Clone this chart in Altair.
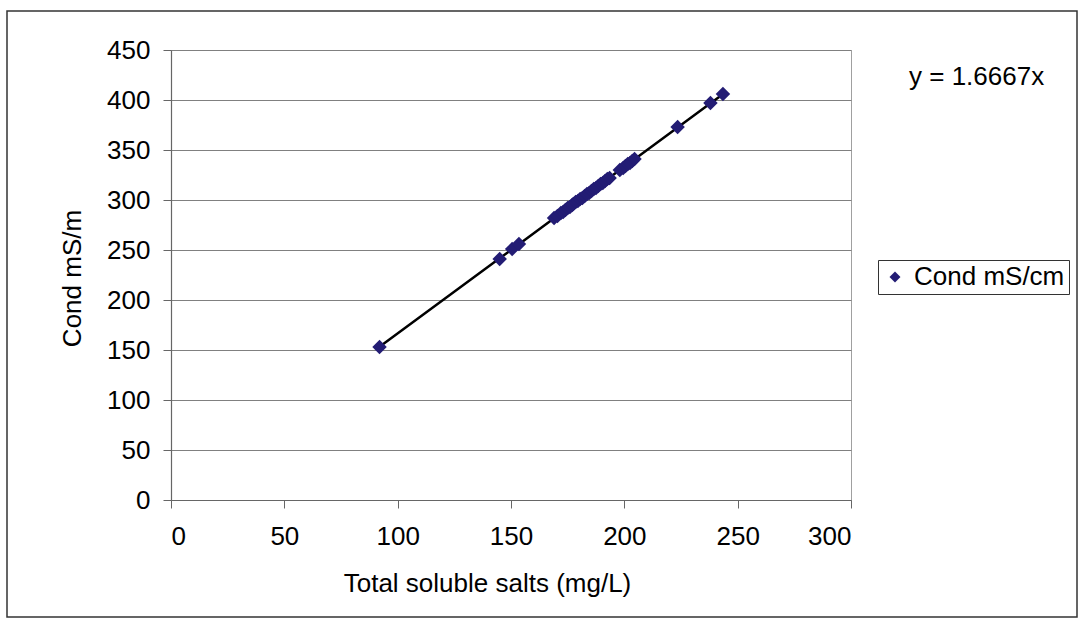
import altair as alt
import pandas as pd

# Data
tds = [92, 145, 150.5, 153.5, 169, 170.5, 172, 173, 174, 175, 176, 177, 177.5,
       178.5, 179.5, 180.5, 181.5, 182.5, 183.5, 184.5, 185.5, 186.5, 187.5,
       188.5, 189.5, 190.5, 191.5, 192.5, 193.5, 198, 199.5, 200.5, 201.5,
       202.5, 203.5, 204.5, 223.5, 238, 243.5]
cond = [153, 241, 251, 256, 282, 284, 287, 288, 290, 292, 293, 295, 296,
        298, 299, 301, 302, 304, 306, 307, 309, 311, 312, 314, 316, 317,
        319, 321, 322, 330, 332, 334, 336, 337, 339, 341, 373, 397, 406]
series_name = "Cond mS/cm"
slope = 1.6667
equation = "y = 1.6667x"
x_ticks = [0, 50, 100, 150, 200, 250, 300]
y_ticks = [0, 50, 100, 150, 200, 250, 300, 350, 400, 450]
x_title = "Total soluble salts (mg/L)"
y_title = "Cond mS/m"

df = pd.DataFrame({"tds": tds, "cond": cond, "series": [series_name] * len(tds)})

FONT = "Liberation Sans"
FS = 26
MARK = "#231C74"

x_enc = alt.X("tds:Q",
              scale=alt.Scale(domain=[0, 300], nice=False, zero=True),
              axis=alt.Axis(values=x_ticks, grid=False, title=x_title,
                            titleX=316, titleY=91, titleAlign="center",
                            titleBaseline="alphabetic", labelPadding=15))
y_enc = alt.Y("cond:Q",
              scale=alt.Scale(domain=[0, 450], nice=False, zero=True),
              axis=alt.Axis(values=y_ticks, grid=True, title=y_title,
                            titleX=-91, titleY=228, titleAngle=270,
                            titleAlign="center", titleBaseline="alphabetic",
                            labelPadding=13))

points = alt.Chart(df).mark_point(shape="diamond", filled=True, size=210,
                                   opacity=1).encode(
    x=x_enc,
    y=y_enc,
    color=alt.Color("series:N",
                    scale=alt.Scale(range=[MARK]),
                    legend=alt.Legend(title=None, orient="none",
                                      legendX=707, legendY=210,
                                      symbolType="diamond", symbolSize=120,
                                      symbolStrokeWidth=0,
                                      labelFontSize=FS, labelFont=FONT,
                                      labelColor="black", labelOffset=6,
                                      padding=4, symbolOffset=0,
                                      strokeColor="#333333",
                                      fillColor="white")),
)

trend = alt.Chart(df).transform_calculate(
    fit=f"{slope} * datum.tds"
).mark_line(color="black", strokeWidth=2.5).encode(
    x=alt.X("tds:Q"),
    y=alt.Y("fit:Q"),
    order="tds:Q",
)

eq_text = alt.Chart(alt.Data(values=[{"t": equation}])).mark_text(
    align="left", baseline="alphabetic", font=FONT, fontSize=FS, color="black"
).encode(x=alt.value(738), y=alt.value(35), text="t:N")

border = alt.Chart(alt.Data(values=[{"a": 1}])).mark_rect(
    fill=None, stroke="#333333", strokeWidth=1.5
).encode(x=alt.value(-164), x2=alt.value(906), y=alt.value(-39), y2=alt.value(567))

chart = alt.layer(border, trend, points, eq_text).properties(
    width=680, height=450,
    autosize=alt.AutoSizeParams(type="none"),
    padding={"left": 171, "top": 50, "right": 232, "bottom": 123},
).configure(font=FONT).configure_view(
    stroke="#a0a0a0", strokeWidth=1
).configure_axis(
    labelFont=FONT, labelFontSize=FS, labelColor="black",
    titleFont=FONT, titleFontSize=FS, titleFontWeight="normal", titleColor="black",
    domainColor="#666666", domainWidth=1.2, tickColor="#666666", tickSize=8,
    gridColor="#808080", gridWidth=1.2,
)

chart.save("out.html", embed_options={"renderer": "svg", "actions": False})
